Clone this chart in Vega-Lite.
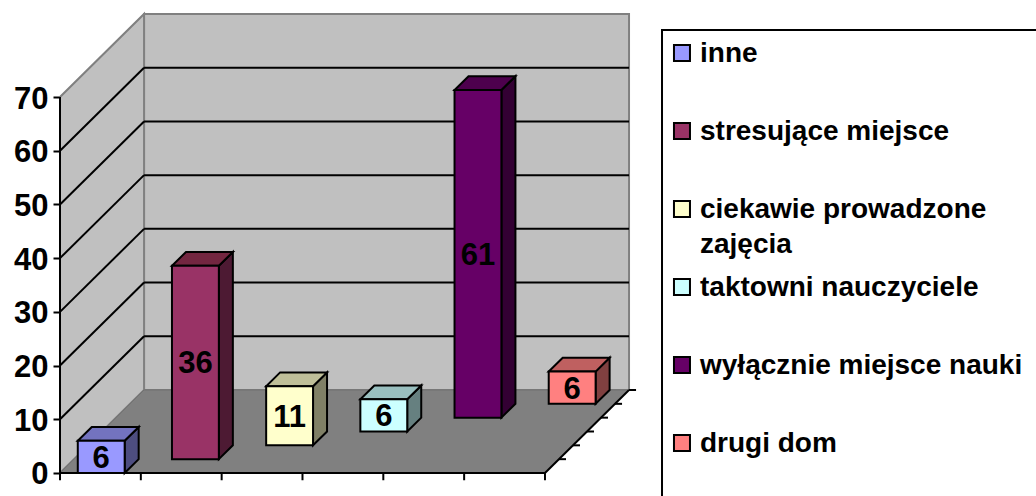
{
"$schema":"https://vega.github.io/schema/vega-lite/v6.json",
"width":976,"height":496,
"autosize":{"type":"none"},
"padding":{"left":60,"top":0,"right":0,"bottom":0},
"background":"white",
"config":{"view":{"stroke":null}},
"datasets":{
"bars":[
{"order":0,"category":"inne","value":6},
{"order":1,"category":"stresujące miejsce","value":36},
{"order":2,"category":"ciekawie prowadzone zajęcia","value":11},
{"order":3,"category":"taktowni nauczyciele","value":6},
{"order":4,"category":"wyłącznie miejsce nauki","value":61},
{"order":5,"category":"drugi dom","value":6}
],
"grid":[{"v":10},{"v":20},{"v":30},{"v":40},{"v":50},{"v":60}],
"slots":[{"s":0},{"s":1},{"s":2},{"s":3},{"s":4},{"s":5},{"s":6}]
},
"encoding":{
"x":{"field":"X","type":"quantitative","scale":{"domain":[0,12.075],"nice":false,"zero":false},"axis":null,"stack":null},
"y":{"field":"Y","type":"quantitative","scale":{"domain":[-4.282,88.06],"nice":false,"zero":false},"stack":null,
"axis":{"title":null,"values":[0,10,20,30,40,50,60,70],"domain":false,"grid":false,"tickSize":7,"tickWidth":2,"tickColor":"black","labelFont":"Liberation Sans","labelFontWeight":"bold","labelFontSize":31,"labelColor":"black","labelPadding":5,"labelOffset":2,"labelOverlap":false,"labelBound":false,"labelFlush":false}}
},
"resolve":{"scale":{"color":"independent"}},
"layer":[
{"data":{"values":[{"wall":"back"}]},
"transform":[{"calculate":"1.04","as":"X"},{"calculate":"7.04","as":"X2"},{"calculate":"15.456","as":"Y"},{"calculate":"85.456","as":"Y2"}],
"mark":{"type":"rect","fill":"#C0C0C0","stroke":"#808080","strokeWidth":2},
"encoding":{"x2":{"field":"X2"},"y2":{"field":"Y2"}}},
{"data":{"values":[{"depth":0},{"depth":6}]},
"transform":[{"calculate":"datum.depth*0.1733","as":"X"},{"calculate":"datum.depth*2.576","as":"Y"},{"calculate":"70+datum.depth*2.576","as":"Y2"}],
"mark":{"type":"area","orient":"vertical","fill":"#C0C0C0","stroke":"#808080","strokeWidth":2},
"encoding":{"y2":{"field":"Y2"}}},
{"data":{"values":[{"depth":0},{"depth":6}]},
"transform":[{"calculate":"datum.depth*0.1733","as":"X"},{"calculate":"6+datum.depth*0.1733","as":"X2"},{"calculate":"datum.depth*2.576","as":"Y"}],
"mark":{"type":"area","orient":"horizontal","fill":"#808080","stroke":"#707070","strokeWidth":1},
"encoding":{"x2":{"field":"X2"}}},
{"data":{"name":"grid"},
"transform":[{"calculate":"[0,6]","as":"depth"},{"flatten":["depth"]},{"calculate":"datum.depth*0.1733","as":"X"},{"calculate":"datum.v+datum.depth*2.576","as":"Y"}],
"mark":{"type":"line","stroke":"black","strokeWidth":2},
"encoding":{"detail":{"field":"v"}}},
{"data":{"name":"grid"},
"transform":[{"calculate":"1.04","as":"X"},{"calculate":"7.04","as":"X2"},{"calculate":"datum.v+15.456","as":"Y"}],
"mark":{"type":"rule","stroke":"black","strokeWidth":2},
"encoding":{"x2":{"field":"X2"}}},
{"data":{"values":[{"edge":"wall"}]},
"transform":[{"calculate":"0","as":"X"},{"calculate":"0","as":"Y"},{"calculate":"70","as":"Y2"}],
"mark":{"type":"rule","stroke":"black","strokeWidth":2},
"encoding":{"y2":{"field":"Y2"}}},
{"data":{"values":[{"edge":"front"}]},
"transform":[{"calculate":"0","as":"X"},{"calculate":"6","as":"X2"},{"calculate":"0","as":"Y"}],
"mark":{"type":"rule","stroke":"black","strokeWidth":2},
"encoding":{"x2":{"field":"X2"}}},
{"data":{"name":"slots"},
"transform":[{"calculate":"datum.s","as":"X"},{"calculate":"0","as":"Y"},{"calculate":"-1.35","as":"Y2"}],
"mark":{"type":"rule","stroke":"black","strokeWidth":2},
"encoding":{"y2":{"field":"Y2"}}},
{"data":{"values":[{"depth":0},{"depth":6}]},
"transform":[{"calculate":"6+datum.depth*0.1733","as":"X"},{"calculate":"datum.depth*2.576","as":"Y"}],
"mark":{"type":"line","stroke":"black","strokeWidth":2},
"encoding":{}},
{"data":{"name":"slots"},
"transform":[{"filter":"datum.s>0"},{"calculate":"6+datum.s*0.1733","as":"X"},{"calculate":"datum.s*0.1733+6.087","as":"X2"},{"calculate":"datum.s*2.576","as":"Y"}],
"mark":{"type":"rule","stroke":"black","strokeWidth":2},
"encoding":{"x2":{"field":"X2"}}},
{"data":{"name":"bars"},
"transform":[{"calculate":"[0,1]","as":"t"},{"flatten":["t"]},
{"calculate":"datum.order*0.992+0.22+0.58+(datum.order+datum.t)*0.1733","as":"X"},
{"calculate":"(datum.order+datum.t)*2.576","as":"Y"},
{"calculate":"datum.value+(datum.order+datum.t)*2.576","as":"Y2"}],
"mark":{"type":"area","orient":"vertical","stroke":"black","strokeWidth":2},
"encoding":{"y2":{"field":"Y2"},"detail":{"field":"category"},
"color":{"field":"category","type":"nominal","legend":null,"scale":{"domain":["inne","stresujące miejsce","ciekawie prowadzone zajęcia","taktowni nauczyciele","wyłącznie miejsce nauki","drugi dom"],"range":["#4D4D80","#4D1A33","#808066","#668080","#330033","#804040"]}}}},
{"data":{"name":"bars"},
"transform":[{"calculate":"[0,1]","as":"t"},{"flatten":["t"]},
{"calculate":"datum.order*0.992+0.22+(datum.order+datum.t)*0.1733","as":"X"},
{"calculate":"datum.order*0.992+0.22+0.58+(datum.order+datum.t)*0.1733","as":"X2"},
{"calculate":"datum.value+(datum.order+datum.t)*2.576","as":"Y"}],
"mark":{"type":"area","orient":"horizontal","stroke":"black","strokeWidth":2},
"encoding":{"x2":{"field":"X2"},"detail":{"field":"category"},
"color":{"field":"category","type":"nominal","legend":null,"scale":{"domain":["inne","stresujące miejsce","ciekawie prowadzone zajęcia","taktowni nauczyciele","wyłącznie miejsce nauki","drugi dom"],"range":["#7373BF","#732640","#BFBF99","#99BFBF","#4D004D","#BF6060"]}}}},
{"data":{"name":"bars"},
"transform":[
{"calculate":"datum.order*0.992+0.22+datum.order*0.1733","as":"X"},
{"calculate":"datum.order*0.992+0.22+0.58+datum.order*0.1733","as":"X2"},
{"calculate":"datum.order*2.576","as":"Y"},
{"calculate":"datum.value+datum.order*2.576","as":"Y2"}],
"mark":{"type":"rect","stroke":"black","strokeWidth":2},
"encoding":{"x2":{"field":"X2"},"y2":{"field":"Y2"},
"color":{"field":"category","type":"nominal","legend":null,"scale":{"domain":["inne","stresujące miejsce","ciekawie prowadzone zajęcia","taktowni nauczyciele","wyłącznie miejsce nauki","drugi dom"],"range":["#9999FF","#993366","#FFFFCC","#CCFFFF","#660066","#FF8080"]}}}},
{"data":{"name":"bars"},
"transform":[
{"calculate":"datum.order*0.992+0.22+0.29+datum.order*0.1733","as":"X"},
{"calculate":"datum.value/2+datum.order*2.576","as":"Y"}],
"mark":{"type":"text","font":"Liberation Sans","fontWeight":"bold","fontSize":31,"color":"black","baseline":"middle","align":"center","dy":2},
"encoding":{"text":{"field":"value","type":"quantitative"}}},
{"data":{"values":[{"box":"legend"}]},
"transform":[{"calculate":"7.448","as":"X"},{"calculate":"14","as":"X2"},{"calculate":"82.48","as":"Y"},{"calculate":"-10","as":"Y2"}],
"mark":{"type":"rect","fill":"white","stroke":"black","strokeWidth":2},
"encoding":{"x2":{"field":"X2"},"y2":{"field":"Y2"}}},
{"data":{"name":"bars"},
"transform":[{"calculate":"7.695","as":"X"},{"calculate":"78.2-14.52*datum.order","as":"Y"}],
"mark":{"type":"point","shape":"square","filled":true,"size":256,"stroke":"black","strokeWidth":2,"opacity":1},
"encoding":{"color":{"field":"category","type":"nominal","legend":null,"scale":{"domain":["inne","stresujące miejsce","ciekawie prowadzone zajęcia","taktowni nauczyciele","wyłącznie miejsce nauki","drugi dom"],"range":["#9999FF","#993366","#FFFFCC","#CCFFFF","#660066","#FF8080"]}}}},
{"data":{"name":"bars"},
"transform":[{"calculate":"7.918","as":"X"},{"calculate":"78.2-14.52*datum.order","as":"Y"},{"calculate":"replace(datum.category,'prowadzone ','prowadzone|')","as":"label"}],
"mark":{"type":"text","font":"Liberation Sans","fontWeight":"bold","fontSize":28,"color":"black","align":"left","baseline":"alphabetic","dy":9,"lineBreak":"|","lineHeight":35},
"encoding":{"text":{"field":"label","type":"nominal"}}}
]
}
